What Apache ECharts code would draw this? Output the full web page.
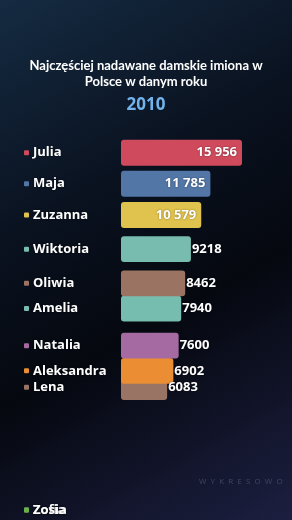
<!DOCTYPE html>
<html>
<head>
<meta charset="utf-8">
<script src="https://cdn.jsdelivr.net/npm/echarts@6/dist/echarts.min.js"></script>
<style>
html,body{margin:0;padding:0;background:#070b14;}
#chart{width:292px;height:520px;}
</style>
</head>
<body>
<div id="chart"></div>
<script>
// ---- data ----
const names  = ['Julia','Maja','Zuzanna','Wiktoria','Oliwia','Amelia','Natalia','Aleksandra','Lena','Zofia','Zosia'];
const values = [15956, 11785, 10579, 9218, 8462, 7940, 7600, 6902, 6083, 5600, 5500];
// animated (in-between) rank position of each name in this frame
const ranks  = [0, 0.97, 1.95, 3.02, 4.09, 4.88, 6.04, 6.83, 7.34, 11.19, 11.19];
const year = '2010';
const titleText = 'Najczęściej nadawane damskie imiona w\nPolsce w danym roku';

// ---- styles ----
const palette = ['#cf4a5c','#5276a6','#e0c24e','#77bcae','#9a7363','#76bdb0','#a46aa1','#ea8d33','#997465','#6bb04c','#6bb04c'];
const FONT = '"Open Sans", "DejaVu Sans", sans-serif';

function fmt(v){
  if (v >= 10000) { const s = String(v); return s.slice(0, s.length-3) + ' ' + s.slice(-3); }
  return String(v);
}

const items = names.map((n,i)=>({name:n, value:[values[i], ranks[i], i]}));
// draw lower-ranked first so higher-ranked bars lie on top
const barData = items.slice().reverse();

const chart = echarts.init(document.getElementById('chart'), null, {renderer:'canvas'});
chart.setOption({
  animation:false,
  backgroundColor: {
    type:'linear', x:0, y:0, x2:1, y2:1,
    colorStops:[
      {offset:0, color:'#152b42'},
      {offset:0.35, color:'#0a1220'},
      {offset:0.6, color:'#05080f'},
      {offset:1, color:'#1c1f40'}
    ]
  },
  title:[
    {text:titleText, left:'center', top:53,
     textStyle:{color:'#ffffff', fontSize:13, fontWeight:'bold', lineHeight:16, fontFamily:'Lato, "Open Sans", sans-serif'}},
    {text:year, left:'center', top:92,
     textStyle:{color:'#72b3ec', fontSize:17, fontWeight:'bold', fontFamily:FONT}}
  ],
  graphic:[
    {type:'text', left:199, top:478,
     style:{text:'W  Y  K  R  E  S  O  W  O', fill:'#41455f', font:'8px ' + FONT}}
  ],
  grid:{left:121, top:25, width:151.7, height:496, containLabel:false},
  xAxis:{type:'value', min:0, max:20000, show:false},
  yAxis:{type:'value', min:-4, max:11.5, inverse:true, show:false},
  series:[
    {
      type:'custom',
      z:2,
      clip:false,
      data: barData,
      encode:{x:0, y:1},
      renderItem:function(params, api){
        const v = api.value(0), r = api.value(1), idx = api.value(2);
        if (r >= 10) return null;
        const p0 = api.coord([0, r]);
        const p1 = api.coord([v, r]);
        const h = api.size([0,1])[1] * 0.81;
        return {
          type:'rect',
          shape:{x:p0[0], y:p0[1]-h/2, width:p1[0]-p0[0], height:h, r:3},
          style:{fill:palette[idx]}
        };
      }
    },
    {
      type:'custom',
      z:5,
      clip:false,
      data: items,
      encode:{x:0, y:1},
      renderItem:function(params, api){
        const v = api.value(0), r = api.value(1), idx = api.value(2);
        const p = api.coord([v, r]);
        const children = [];
        children.push({
          type:'rect',
          shape:{x:24, y:p[1]-2.5, width:5, height:5, r:1},
          style:{fill:palette[idx]}
        });
        children.push({
          type:'text',
          style:{
            x:33, y:p[1], text:names[idx], fill:'#ffffff',
            font:'bold 13px ' + FONT, textAlign:'left', textVerticalAlign:'middle',
            textShadowColor:'rgba(0,0,0,0.5)', textShadowBlur:2
          }
        });
        if (r < 10) {
          const inside = v >= 10000;
          children.push({
            type:'text',
            style:{
              x: inside ? p[0]-5 : p[0]+1, y:p[1], text:fmt(v), fill:'#ffffff',
              font:'bold 13px ' + FONT, textAlign: inside ? 'right' : 'left', textVerticalAlign:'middle',
              textShadowColor:'rgba(0,0,0,0.45)', textShadowBlur:2
            }
          });
        }
        return {type:'group', children:children};
      }
    }
  ]
});
</script>
</body>
</html>
